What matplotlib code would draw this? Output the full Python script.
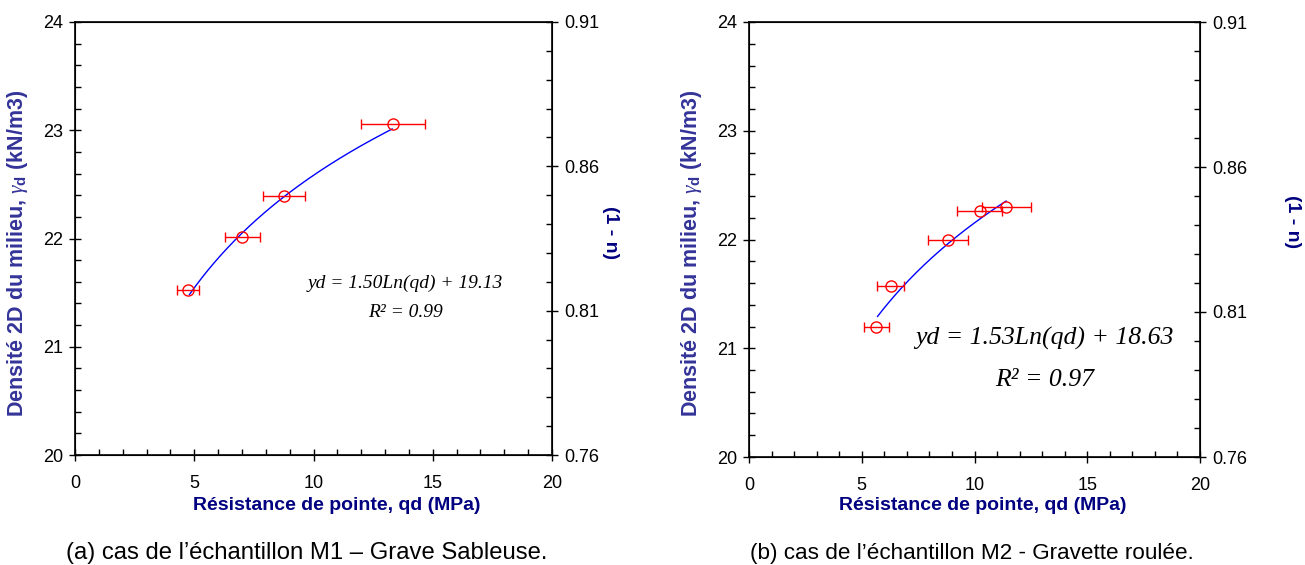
import numpy as np
import matplotlib
matplotlib.use("Agg")
import matplotlib.pyplot as plt
from matplotlib.ticker import MultipleLocator, FixedLocator, FormatStrFormatter

# ---- data ----
qd_a = [4.75, 7.02, 8.76, 13.33]
yd_a = [21.52, 22.01, 22.39, 23.06]
err_a = [0.47, 0.72, 0.87, 1.34]
fit_a = (1.50, 19.13)
fit_range_a = (4.8, 13.3)

qd_b = [5.65, 6.29, 8.82, 10.23, 11.41]
yd_b = [21.20, 21.57, 22.00, 22.26, 22.30]
err_b = [0.56, 0.60, 0.90, 1.00, 1.08]
fit_b = (1.53, 18.63)
fit_range_b = (5.7, 11.4)

eq_a = ["yd = 1.50Ln(qd) + 19.13", "R² = 0.99"]
eq_b = ["yd = 1.53Ln(qd) + 18.63", "R² = 0.97"]
captions = ["(a) cas de l’échantillon M1 – Grave Sableuse.",
            "(b) cas de l’échantillon M2 - Gravette roulée."]

xlabel = "Résistance de pointe, qd (MPa)"
ylabel = r"Densité 2D du milieu, $\gamma_\mathregular{d}$ (kN/m3)"
y2label = "(1 - n)"
y2ticks = [0.76, 0.81, 0.86, 0.91]

plt.rcParams['font.family'] = ['Liberation Sans', 'DejaVu Sans']
plt.rcParams['mathtext.fontset'] = 'custom'
plt.rcParams['mathtext.rm'] = 'Liberation Sans:bold'
plt.rcParams['mathtext.it'] = 'Liberation Serif:italic'

W, H = 1305, 565
fig = plt.figure(figsize=(W / 100, H / 100), dpi=100)

NAVY = '#000080'
YLC = '#333399'

def panel(px, qd, yd, err, fit, frange, eq, eqsize, eqpos, caption, cap, lab):
    l, r, t, b = px
    ax = fig.add_axes([l / W, 1 - b / H, (r - l) / W, (b - t) / H])
    ax.errorbar(qd, yd, xerr=err, fmt='o', mfc='none', mec='red', ecolor='red',
                ms=8, mew=1, elinewidth=1, capsize=3.3, capthick=1, zorder=3)
    xs = np.linspace(frange[0], frange[1], 200)
    ax.plot(xs, fit[0] * np.log(xs) + fit[1], color='blue', lw=1, zorder=2)
    ax.set_xlim(0, 20)
    ax.set_ylim(20, 24)
    ax.xaxis.set_major_locator(MultipleLocator(5))
    ax.xaxis.set_minor_locator(MultipleLocator(1))
    ax.yaxis.set_major_locator(MultipleLocator(1))
    ax.yaxis.set_minor_locator(MultipleLocator(0.2))
    ax.tick_params(which='major', direction='inout', length=9, width=1, labelsize=13, pad=4)
    ax.tick_params(axis='x', which='major', pad=10)
    ax.tick_params(which='minor', direction='in', length=4, width=1)
    ax.tick_params(axis='x', which='both', top=False)
    ax.tick_params(axis='y', which='both', right=False)
    for s in ax.spines.values():
        s.set_linewidth(1.2)
    fx = lambda x: (x - l) / (r - l)
    fy = lambda y: (b - y) / (b - t)
    ax.set_xlabel(xlabel, fontsize=14, fontweight='bold', color=NAVY)
    ax.xaxis.label.set_va('center')
    ax.xaxis.set_label_coords(fx(lab['xl'][0]), fy(lab['xl'][1]))
    ax.set_ylabel(ylabel, fontsize=15.5, fontweight='bold', color=YLC)
    ax.yaxis.label.set_va('center')
    ax.yaxis.set_label_coords(fx(lab['yl'][0]), fy(lab['yl'][1]))
    ax2 = ax.twinx()
    ax2.set_ylim(0.76, 0.91)
    ax2.yaxis.set_major_locator(FixedLocator(y2ticks))
    ax2.yaxis.set_minor_locator(MultipleLocator(0.01))
    ax2.yaxis.set_major_formatter(FormatStrFormatter('%.2f'))
    ax2.tick_params(which='major', direction='inout', length=9, width=1, labelsize=13, pad=4)
    ax2.tick_params(which='minor', direction='in', length=4, width=1)
    ax2.set_ylabel(y2label, fontsize=14, fontweight='bold', color=NAVY, rotation=270)
    ax2.yaxis.label.set_va('center')
    ax2.yaxis.set_label_coords(fx(lab['y2'][0]), fy(lab['y2'][1]))
    ax.text(eqpos[0], eqpos[1], eq[0], ha='center', va='center',
            fontsize=eqsize, family='Liberation Serif', style='italic')
    ax.text(eqpos[0], eqpos[2], eq[1], ha='center', va='center',
            fontsize=eqsize, family='Liberation Serif', style='italic')
    fig.text(cap[0] / W, 1 - 553 / H, caption, ha='center', va='center', fontsize=cap[1])
    return ax

panel((75, 552, 22, 455), qd_a, yd_a, err_a, fit_a, fit_range_a, eq_a, 14,
      (13.85, 21.59, 21.32), captions[0], (307, 17.2),
      {'xl': (337, 506), 'yl': (18, 253), 'y2': (610, 233)})
panel((749, 1200, 22, 457), qd_b, yd_b, err_b, fit_b, fit_range_b, eq_b, 18.5,
      (13.1, 21.09, 20.71), captions[1], (972, 16.2),
      {'xl': (983, 506), 'yl': (692, 253), 'y2': (1293, 222)})

fig.savefig("out.png", dpi=100)
